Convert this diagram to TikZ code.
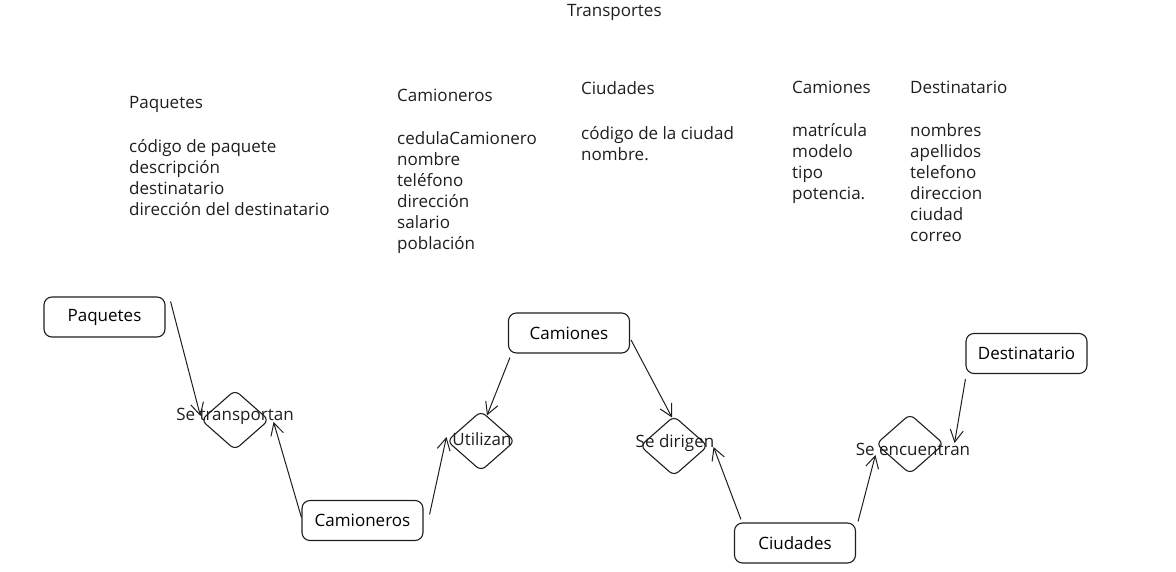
\documentclass[tikz,border=0pt]{standalone}
\usepackage{fontspec}
\setmainfont{Open Sans}
\usetikzlibrary{arrows.meta,shapes.geometric}
\definecolor{SketchBlack}{HTML}{1E1E1E}

\tikzset{
  entity/.style={draw=SketchBlack, rounded corners=8pt, minimum width=121pt,
    minimum height=40pt, inner sep=0pt, line width=1.1pt},
  relation/.style={draw=SketchBlack, diamond, rounded corners=6pt,
    minimum width=68pt, minimum height=60pt, inner sep=0pt, line width=1.1pt},
  link/.style={SketchBlack, line width=1pt, -{Straight Barb[length=12pt,width=13pt]}},
  attrs/.style={anchor=north west, align=left, inner sep=0pt, text=SketchBlack}
}

\begin{document}
\begin{tikzpicture}[x=1pt, y=-1pt, font=\fontsize{17}{21}\selectfont]
      \useasboundingbox (0,0) rectangle (1176,572);
      \node[anchor=west, text=SketchBlack, inner sep=0pt] (title) at (567,12) {Transportes};
      % Attribute lists
      \node[attrs] (lpaq) at (129,96) {Paquetes\\[23pt]código de paquete\\descripción\\destinatario\\dirección del destinatario};
      \node[attrs] (lcamr) at (397,89) {Camioneros\\[22pt]cedulaCamionero\\nombre\\teléfono\\dirección\\salario\\población};
      \node[attrs] (lciu) at (581,81) {Ciudades\\[24pt]código de la ciudad\\nombre.};
      \node[attrs] (lcamn) at (792,81) {Camiones\\[22pt]matrícula\\modelo\\tipo\\potencia.};
      \node[attrs] (ldest) at (910,81) {Destinatario\\[22pt]nombres\\apellidos\\telefono\\direccion\\ciudad\\correo};
      % Entities
      \node[entity] (paq) at (104.5,317) {Paquetes};
      \node[entity] (camr) at (362.5,520.5) {Camioneros};
      \node[entity] (camn) at (569,333) {Camiones};
      \node[entity] (ciu) at (795,543) {Ciudades};
      \node[entity] (dest) at (1026.5,353.5) {Destinatario};
      % Relations
      \node[relation] (trans) at (235,420) {};
      \node[relation] (util) at (481,441) {};
      \node[relation] (dirig) at (674,446) {};
      \node[relation] (encu) at (910,444) {};
      \node[text=SketchBlack] (ltrans) at (235,416) {Se transportan};
      \node[text=SketchBlack] (lutil) at (482,439) {Utilizan};
      \node[text=SketchBlack] (ldirig) at (675,443) {Se dirigen};
      \node[text=SketchBlack] (lencu) at (913,449) {Se encuentran};
      % Links
      \draw[link] ([xshift=5pt,yshift=-5pt]paq.north east) -- ([yshift=4pt]trans.west);
      \draw[link] ([yshift=3pt]camr.west) -- ([xshift=4pt,yshift=-2pt]trans.east);
      \draw[link] ([xshift=6pt,yshift=6pt]camr.east) -- ([yshift=4pt]util.west);
      \draw[link] ([xshift=2pt,yshift=-4pt]camn.south west) -- ([xshift=6pt,yshift=-5pt]util.north);
      \draw[link] ([xshift=1pt,yshift=-7pt]camn.east) -- ([xshift=-2pt,yshift=-2pt]dirig.north);
      \draw[link] ([xshift=7pt,yshift=3pt]ciu.north west) -- ([xshift=5pt,yshift=-1pt]dirig.east);
      \draw[link] ([xshift=2pt,yshift=1pt]ciu.north east) -- ([yshift=-11pt]encu.west);
      \draw[link] ([yshift=-5pt]dest.south west) -- ([xshift=10pt,yshift=1pt]encu.east);
    \end{tikzpicture}
\end{document}
